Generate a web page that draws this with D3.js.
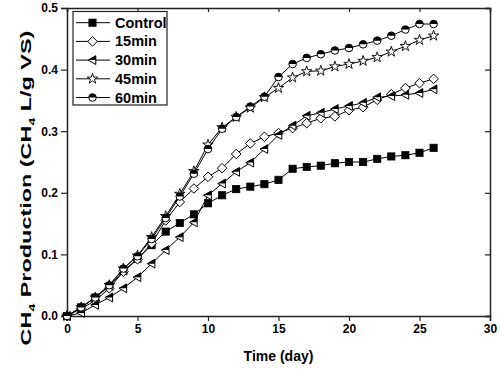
<!DOCTYPE html>
<html>
<head>
<meta charset="utf-8">
<script src="https://cdn.jsdelivr.net/npm/d3@7"></script>
<style>
  body { margin: 0; background: #fff; }
  text { font-family: Arial, "Liberation Sans", sans-serif; font-weight: bold; fill: #000; }
</style>
</head>
<body>
<script>
// values, one per day 0..26
const days = d3.range(0, 27);
const control = [0, 0.014, 0.030, 0.048, 0.073, 0.093, 0.115, 0.137, 0.151, 0.165, 0.183, 0.196, 0.206, 0.210, 0.214, 0.221, 0.239, 0.242, 0.244, 0.248, 0.250, 0.250, 0.255, 0.259, 0.261, 0.265, 0.273];
const min15 = [0, 0.012, 0.025, 0.045, 0.072, 0.092, 0.118, 0.155, 0.185, 0.207, 0.226, 0.240, 0.263, 0.280, 0.291, 0.297, 0.305, 0.313, 0.321, 0.324, 0.334, 0.339, 0.351, 0.360, 0.370, 0.378, 0.385];
const min30 = [0, 0.005, 0.018, 0.030, 0.045, 0.063, 0.085, 0.107, 0.128, 0.152, 0.196, 0.215, 0.234, 0.249, 0.271, 0.294, 0.309, 0.325, 0.330, 0.336, 0.341, 0.346, 0.355, 0.357, 0.359, 0.362, 0.368];
const min45 = [0, 0.014, 0.030, 0.050, 0.077, 0.098, 0.128, 0.162, 0.198, 0.235, 0.278, 0.306, 0.323, 0.338, 0.355, 0.370, 0.387, 0.397, 0.398, 0.405, 0.409, 0.414, 0.420, 0.429, 0.438, 0.448, 0.455];
const min60 = [0, 0.014, 0.030, 0.050, 0.077, 0.097, 0.125, 0.159, 0.194, 0.231, 0.271, 0.304, 0.323, 0.340, 0.356, 0.388, 0.409, 0.419, 0.425, 0.431, 0.435, 0.441, 0.447, 0.455, 0.465, 0.474, 0.474];

const seriesNames = ["Control", "15min", "30min", "45min", "60min"];
const seriesMarks = ["square", "diamond", "triangle", "star", "circle"];
const seriesVals = [control, min15, min30, min45, min60];
const xTicks = [0, 5, 10, 15, 20, 25, 30];
const yTicks = [0.0, 0.1, 0.2, 0.3, 0.4, 0.5];

const W = 500, H = 369;
const m = { left: 67, right: 10, top: 8, bottom: 53 };

const svg = d3.select("body").append("svg")
    .attr("width", W)
    .attr("height", H);

const x = d3.scaleLinear().domain([0, 30]).range([m.left, W - m.right]);
const y = d3.scaleLinear().domain([0, 0.5]).range([H - m.bottom, m.top]);

// axes: outward ticks left/bottom, inward ticks top/right
const gx = svg.append("g")
    .attr("transform", `translate(0,${H - m.bottom})`)
    .call(d3.axisBottom(x).tickValues(xTicks).tickSize(5).tickPadding(3).tickFormat(d3.format("d")));
const gy = svg.append("g")
    .attr("transform", `translate(${m.left},0)`)
    .call(d3.axisLeft(y).tickValues(yTicks).tickSize(6).tickPadding(3).tickFormat(d3.format(".1f")));
const gt = svg.append("g")
    .attr("transform", `translate(0,${m.top})`)
    .call(d3.axisBottom(x).tickValues(xTicks).tickSize(4).tickFormat(""));
const gr = svg.append("g")
    .attr("transform", `translate(${W - m.right},0)`)
    .call(d3.axisLeft(y).tickValues(yTicks).tickSize(5).tickFormat(""));

[gx, gy, gt, gr].forEach(g => {
    g.select(".domain").attr("stroke", "#222").attr("stroke-width", 1.5);
    g.selectAll(".tick line").attr("stroke", "#222").attr("stroke-width", 1.2);
    g.selectAll("text").style("font-size", "12px").style("font-family", "Arial, 'Liberation Sans', sans-serif").style("font-weight", "bold");
});

// axis titles
svg.append("text")
    .attr("x", (m.left + W - m.right) / 2)
    .attr("y", 361)
    .attr("text-anchor", "middle")
    .style("font-size", "14px")
    .text("Time (day)");

const yl = svg.append("text")
    .attr("text-anchor", "middle")
    .style("font-size", "15px");
yl.append("tspan").text("CH");
yl.append("tspan").attr("dy", 4).style("font-size", "9px").text("4");
yl.append("tspan").attr("dy", -4).text(" Production (CH");
yl.append("tspan").attr("dy", 4).style("font-size", "9px").text("4");
yl.append("tspan").attr("dy", -4).text(" L/g VS)");
// the label in the figure is stretched along its length
const ylLen = yl.node().getBBox().width || 250;
yl.attr("transform", `translate(31,188) rotate(-90) scale(${315 / ylLen},1)`);

// marker drawing
function drawMark(g, type) {
    const s = 3.6;
    if (type === "square") {
        g.append("rect").attr("x", -s).attr("y", -s).attr("width", 2 * s).attr("height", 2 * s)
            .attr("fill", "#000").attr("stroke", "#000").attr("stroke-width", 0.8);
    } else if (type === "diamond") {
        const r = 4.8;
        g.append("path").attr("d", `M0,${-r}L${r},0L0,${r}L${-r},0Z`)
            .attr("fill", "#fff").attr("stroke", "#000").attr("stroke-width", 1);
    } else if (type === "triangle") {
        const r = 4.4;
        g.append("path").attr("d", `M${-r},0L${r * 0.75},${-r}L${r * 0.75},${r}Z`)
            .attr("fill", "#fff").attr("stroke", "#000").attr("stroke-width", 1);
        g.append("path").attr("d", `M${-r},0L${r * 0.75},${-r}L${r * 0.75},0Z`)
            .attr("fill", "#000");
    } else if (type === "star") {
        g.append("path").attr("d", d3.symbol(d3.symbolStar, 34)())
            .attr("fill", "#fff").attr("stroke", "#000").attr("stroke-width", 0.9);
    } else if (type === "circle") {
        const r = 3.8;
        g.append("circle").attr("r", r)
            .attr("fill", "#fff").attr("stroke", "#000").attr("stroke-width", 1);
        g.append("path").attr("d", `M${-r},0A${r},${r} 0 0 1 ${r},0Z`).attr("fill", "#000");
    }
}

const line = d3.line().x((d, i) => x(days[i])).y(d => y(d));

seriesVals.forEach((vals, k) => {
    const g = svg.append("g");
    g.append("path")
        .attr("d", line(vals))
        .attr("fill", "none")
        .attr("stroke", "#000")
        .attr("stroke-width", 1);
    g.selectAll("g.pt")
        .data(vals)
        .join("g")
        .attr("class", "pt")
        .attr("transform", (d, i) => `translate(${x(days[i])},${y(d)})`)
        .each(function () { drawMark(d3.select(this), seriesMarks[k]); });
});

// legend
const lg = svg.append("g");
lg.append("rect")
    .attr("x", 73).attr("y", 11.5).attr("width", 94).attr("height", 93.5)
    .attr("fill", "#fff").attr("stroke", "#222").attr("stroke-width", 1.2);
seriesNames.forEach((name, k) => {
    const yy = 22.7 + k * 18.7;
    lg.append("line").attr("x1", 76).attr("x2", 110).attr("y1", yy).attr("y2", yy)
        .attr("stroke", "#000").attr("stroke-width", 1);
    drawMark(lg.append("g").attr("transform", `translate(92.5,${yy})`), seriesMarks[k]);
    lg.append("text").attr("x", 115).attr("y", yy + 5)
        .style("font-size", "14.5px")
        .text(name);
});
</script>
</body>
</html>
